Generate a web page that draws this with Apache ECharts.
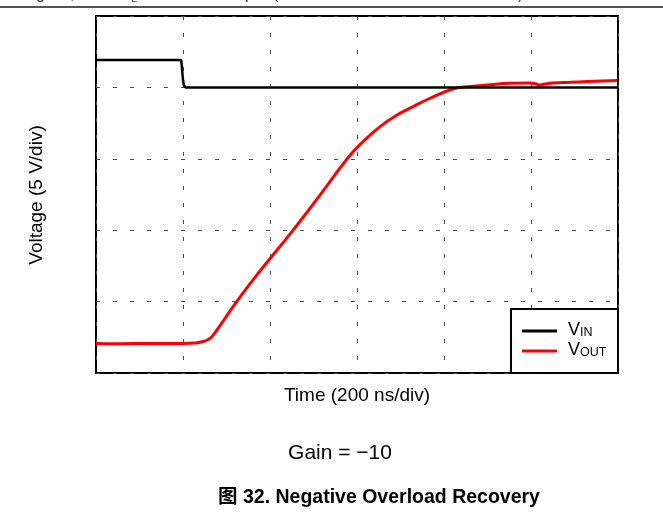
<!DOCTYPE html>
<html>
<head>
<meta charset="utf-8">
<script src="https://cdn.jsdelivr.net/npm/echarts@6/dist/echarts.min.js"></script>
<style>
  html, body { margin: 0; padding: 0; background: #fff; }
  #chart { width: 663px; height: 512px; }
</style>
</head>
<body>
<div id="chart"></div>
<script>
// Time in ns (200 ns per division), voltage in V (5 V per division)
const vinTime = [0, 196, 198, 200, 202, 206, 1200];
const vinVolt = [21.92, 21.92, 21.2, 20.5, 20.15, 20.0, 20.0];

const voutTime = [0, 55, 124, 200, 228, 246, 258, 267, 297, 331, 377, 455, 515, 579, 614, 653, 692, 729, 763, 821, 860, 899, 952, 998, 1012, 1021, 1032, 1051, 1090, 1129, 1198];
const voutVolt = [2.07, 2.05, 2.07, 2.07, 2.10, 2.21, 2.35, 2.56, 3.85, 5.32, 7.14, 10.08, 12.46, 15.06, 16.20, 17.25, 18.07, 18.65, 19.17, 19.89, 20.06, 20.17, 20.29, 20.31, 20.24, 20.17, 20.24, 20.31, 20.36, 20.41, 20.48];

const xTicks = { min: 0, max: 1200, step: 200 };
const yTicks = { min: 0, max: 25, step: 5 };

const seriesNames = ['V_IN', 'V_OUT'];
const xTitle = 'Time (200 ns/div)';
const yTitle = 'Voltage (5 V/div)';
const noteText = 'Gain = \u221210';
const captionText = '\u56fe 32. Negative Overload Recovery';

const FONT = '"Liberation Sans", Arial, "Noto Sans CJK SC", sans-serif';

const pair = (xs, ys) => xs.map((x, i) => [x, ys[i]]);

const chart = echarts.init(document.getElementById('chart'), null, { renderer: 'canvas' });

const gridDash = { color: '#4a4a4a', width: 1, type: [4, 13] };

function legendEntry(y, color, sub) {
  return [
    { type: 'line', z: 12, shape: { x1: 522, y1: y, x2: 557, y2: y }, style: { stroke: color, lineWidth: 3 } },
    {
      type: 'text', z: 12, x: 568, y: y + 8,
      style: {
        text: '{v|V}{s|' + sub + '}',
        textVerticalAlign: 'bottom',
        rich: {
          v: { fontFamily: FONT, fontSize: 18, fill: '#000', verticalAlign: 'bottom', lineHeight: 18 },
          s: { fontFamily: FONT, fontSize: 12.5, fill: '#000', verticalAlign: 'bottom', lineHeight: 13 }
        }
      }
    }
  ];
}

function topFragment(x, y, ch, size) {
  return { type: 'text', x: x, y: y, style: { text: ch, fontFamily: FONT, fontSize: size, fill: '#333', textVerticalAlign: 'bottom' } };
}

chart.setOption({
  animation: false,
  backgroundColor: '#fff',
  grid: { left: 96, right: 45, top: 16, bottom: 139, show: true, borderColor: '#000', borderWidth: 2, backgroundColor: 'transparent' },
  xAxis: {
    type: 'value', min: xTicks.min, max: xTicks.max, interval: xTicks.step,
    axisLine: { show: false }, axisTick: { show: false }, axisLabel: { show: false },
    splitLine: { show: true, lineStyle: gridDash }
  },
  yAxis: {
    type: 'value', min: yTicks.min, max: yTicks.max, interval: yTicks.step,
    axisLine: { show: false }, axisTick: { show: false }, axisLabel: { show: false },
    splitLine: { show: true, lineStyle: gridDash }
  },
  series: [
    {
      name: seriesNames[1], type: 'line', data: pair(voutTime, voutVolt),
      showSymbol: false, smooth: 0.5, clip: true,
      lineStyle: { color: '#ff0000', width: 3 }, z: 2
    },
    {
      name: seriesNames[0], type: 'line', data: pair(vinTime, vinVolt),
      showSymbol: false, clip: true,
      lineStyle: { color: '#000', width: 2.5 }, z: 3
    }
  ],
  graphic: [
    // rule and clipped heading fragments along the top edge
    { type: 'line', shape: { x1: 0, y1: 7, x2: 663, y2: 7 }, style: { stroke: '#1a1a1a', lineWidth: 1.5 } },
    topFragment(36, 2.5, 'g', 16),
    topFragment(70, 2.5, ',', 16),
    topFragment(131, 4.5, 'L', 11),
    topFragment(245, 2.5, 'p', 16),
    topFragment(273, 2.5, '(', 16),
    topFragment(518, 2.5, ')', 16),

    // axis titles
    { type: 'text', x: 37, y: 195, rotation: Math.PI / 2,
      style: { text: yTitle, fontFamily: FONT, fontSize: 19, fill: '#000', textAlign: 'center', textVerticalAlign: 'middle' } },
    { type: 'text', x: 357, y: 396,
      style: { text: xTitle, fontFamily: FONT, fontSize: 19, fill: '#000', textAlign: 'center', textVerticalAlign: 'middle' } },

    // condition note and figure caption
    { type: 'text', x: 340, y: 453,
      style: { text: noteText, fontFamily: FONT, fontSize: 21, fill: '#000', textAlign: 'center', textVerticalAlign: 'middle' } },
    { type: 'text', x: 379, y: 498,
      style: { text: captionText, fontFamily: FONT, fontSize: 19.5, fontWeight: 'bold', fill: '#000', textAlign: 'center', textVerticalAlign: 'middle' } },

    // legend box
    { type: 'rect', z: 10, shape: { x: 511, y: 309, width: 107, height: 64 }, style: { fill: '#fff', stroke: '#000', lineWidth: 2 } }
  ].concat(legendEntry(331, '#000', 'IN'), legendEntry(351, '#ff0000', 'OUT'))
});
</script>
</body>
</html>
